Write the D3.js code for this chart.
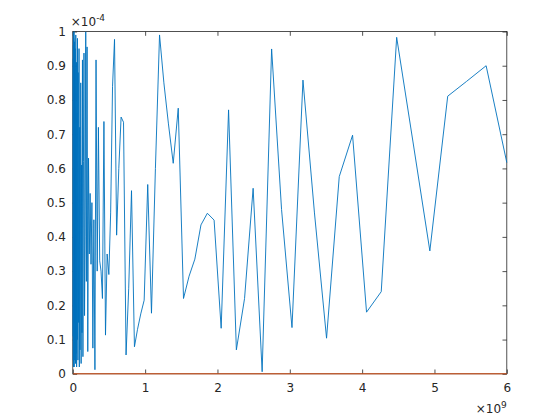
<!DOCTYPE html>
<html><head><meta charset="utf-8">
<script src="https://cdn.jsdelivr.net/npm/d3@7"></script>
<style>html,body{margin:0;padding:0;background:#fff;} svg{display:block;}</style>
</head><body>
<svg id="chart" width="560" height="420"></svg>
<script>
// x values in units of 1e9
const xValuesE9 = [
6.000,5.7143,5.4422,5.1830,4.9362,4.7012,4.4773,4.2641,4.0610,3.8677,
3.6835,3.5081,3.3410,3.1819,3.0304,2.8861,2.7487,2.6178,2.4931,2.3744,
2.2613,2.1536,2.0511,1.9534,1.8604,1.7718,1.6874,1.6071,1.5306,1.4577,
1.3883,1.3222,1.2592,1.1992,1.1421,1.0877,1.0359,0.9866,0.9396,0.8949,
0.8523,0.8117,0.7730,0.7362,0.7012,0.6678,0.6360,0.6057,0.5768,0.5494,
0.5232,0.4983,0.4746,0.4520,0.4304,0.4099,0.3904,0.3718,0.3541,0.3373,
0.3212,0.3059,0.2913,0.2775,0.2643,0.2517,0.2397,0.2283,0.2174,0.2071,
0.1972,0.1878,0.1789,0.1703,0.1622,0.1545,0.1471,0.1401,0.1335,0.1271,
0.1211,0.1153,0.1098,0.1046,0.0996,0.0948,0.0903,0.0860,0.0819,0.0780,
0.0743,0.0708,0.0674,0.0642,0.0611,0.0582,0.0554,0.0528,0.0503,0.0479,
0.0456,0.0434,0.0414,0.0394,0.0375,0.0357,0.0340,0.0324,0.0309,0.0294,
0.0280,0.0267,0.0254,0.0242,0.0230,0.0219,0.0209,0.0199,0.0190,0.0181,
0.0172,0.0164,0.0156,0.0149,0.0141,0.0135,0.0128,0.0122,0.0116,0.0111,
0.01056,0.01005,0.00957,0.00912,0.00868,0.00827,0.00788,0.00750,0.00715,0.00680,
0.00648
];
// y values in units of 1e-4
const yValuesE4 = [
0.617,0.900,0.854,0.811,0.359,0.680,0.983,0.240,0.180,0.697,
0.576,0.104,0.470,0.858,0.135,0.480,0.949,0.006,0.542,0.220,
0.070,0.771,0.133,0.449,0.469,0.435,0.335,0.285,0.220,0.776,
0.615,0.730,0.850,0.990,0.600,0.177,0.553,0.215,0.175,0.130,
0.079,0.535,0.250,0.055,0.735,0.750,0.600,0.405,0.977,0.840,
0.470,0.290,0.350,0.113,0.737,0.220,0.300,0.330,0.720,0.300,
0.917,0.012,0.450,0.075,0.500,0.320,0.527,0.350,0.630,0.065,
0.955,0.270,0.999,0.400,0.170,0.937,0.620,0.050,0.917,0.120,
0.610,0.030,0.850,0.280,0.070,0.720,0.020,0.950,0.400,0.150,
0.880,0.040,0.550,0.980,0.100,0.330,0.760,0.020,0.910,0.470,
0.060,0.690,0.990,0.180,0.030,0.820,0.360,0.950,0.080,0.580,
0.250,0.930,0.040,0.710,0.970,0.130,0.440,0.860,0.020,0.640,
1.000,0.090,0.520,0.940,0.210,0.050,0.790,0.980,0.310,0.060,
0.890,0.150,0.990,0.020,0.670,0.960,0.380,0.040,0.920,0.110,
0.997
];
// second series: flat zero line
const zeroLineX = [0.00648, 6.000];
const zeroLineY = [0, 0];

const xTickValues = [0,1,2,3,4,5,6];
const xTickLabels = ["0","1","2","3","4","5","6"];
const yTickValues = [0,0.1,0.2,0.3,0.4,0.5,0.6,0.7,0.8,0.9,1];
const yTickLabels = ["0","0.1","0.2","0.3","0.4","0.5","0.6","0.7","0.8","0.9","1"];

const W = 560, H = 420;
const L = 72.8, R = 506.8, T = 31.5, B = 373.8;
const axisColor = "#262626";
const font = "'DejaVu Sans', sans-serif";
const fs = 12;
const tick = 4.3;

const svg = d3.select("#chart");
svg.append("rect").attr("width", W).attr("height", H).attr("fill", "#fff");

const x = d3.scaleLinear().domain([0, 6]).range([L, R]);
const y = d3.scaleLinear().domain([0, 1]).range([B, T]);

function styleAxis(g) {
  g.select(".domain").remove();
  g.selectAll(".tick line").attr("stroke", axisColor).attr("stroke-width", 0.8);
  g.selectAll(".tick text").attr("fill", axisColor).style("font-family", font).style("font-size", fs + "px");
}

// bottom
svg.append("g").attr("transform", `translate(0,${B})`)
  .call(d3.axisBottom(x).tickValues(xTickValues).tickFormat((d,i)=>xTickLabels[i]).tickSizeInner(-tick).tickSizeOuter(0).tickPadding(10))
  .call(styleAxis);
// top
svg.append("g").attr("transform", `translate(0,${T})`)
  .call(d3.axisTop(x).tickValues(xTickValues).tickFormat("").tickSizeInner(-tick).tickSizeOuter(0))
  .call(styleAxis);
// left
svg.append("g").attr("transform", `translate(${L},0)`)
  .call(d3.axisLeft(y).tickValues(yTickValues).tickFormat((d,i)=>yTickLabels[i]).tickSizeInner(-tick).tickSizeOuter(0).tickPadding(7))
  .call(styleAxis);
// right
svg.append("g").attr("transform", `translate(${R},0)`)
  .call(d3.axisRight(y).tickValues(yTickValues).tickFormat("").tickSizeInner(-tick).tickSizeOuter(0))
  .call(styleAxis);

// box
svg.append("rect").attr("x", L).attr("y", T).attr("width", R - L).attr("height", B - T)
  .attr("fill", "none").attr("stroke", axisColor).attr("stroke-width", 0.8);

// data
const line = d3.line().x(d => x(d[0])).y(d => y(d[1]));
svg.append("path")
  .datum(xValuesE9.map((v, i) => [v, yValuesE4[i]]))
  .attr("d", line).attr("fill", "none").attr("stroke", "#0072BD").attr("stroke-width", 0.9)
  .attr("stroke-linejoin", "miter");
svg.append("path")
  .datum(zeroLineX.map((v, i) => [v, zeroLineY[i]]))
  .attr("d", line).attr("fill", "none").attr("stroke", "#D95319").attr("stroke-width", 1);

// exponent labels
const e1 = svg.append("text").attr("x", L - 2).attr("y", 25.5).attr("fill", axisColor)
  .style("font-family", font).style("font-size", fs + "px");
e1.append("tspan").text("×10");
e1.append("tspan").attr("dy", -5).style("font-size", "9px").text("-4");

const e2 = svg.append("text").attr("x", R).attr("y", 413).attr("text-anchor", "end").attr("fill", axisColor)
  .style("font-family", font).style("font-size", fs + "px");
e2.append("tspan").text("×10");
e2.append("tspan").attr("dy", -5).style("font-size", "9px").text("9");
</script>
</body></html>
